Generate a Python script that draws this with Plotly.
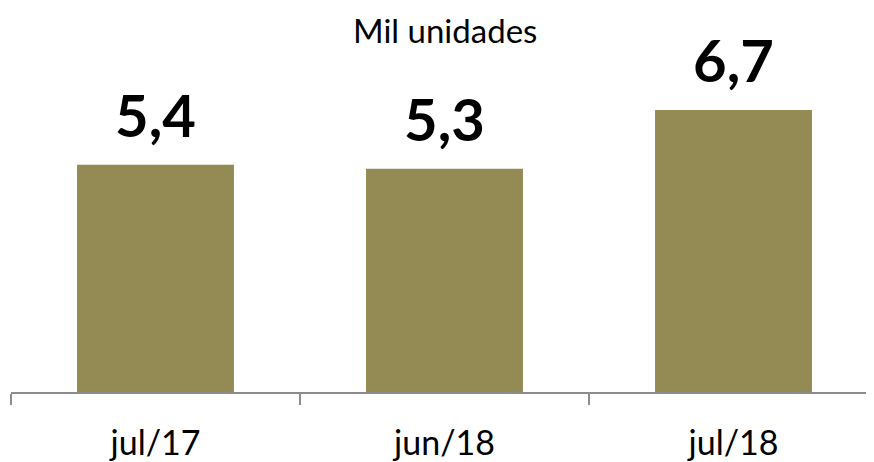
import plotly.graph_objects as go

categories = ["jul/17", "jun/18", "jul/18"]
values = [5.4, 5.3, 6.7]
labels = ["5,4", "5,3", "6,7"]
title_text = "Mil unidades"

bar_color = "#948A54"
font_family = "Lato, Open Sans, sans-serif"

# page has an 8px body margin; plot area targeted at page x 11..878, y 8..392
fig = go.Figure()
fig.add_trace(go.Bar(
    x=categories, y=values, marker=dict(color=bar_color, line=dict(width=0)),
    width=0.543, hoverinfo="skip",
))

for c, v, t in zip(categories, values, labels):
    fig.add_annotation(x=c, y=v, text="<b>%s</b>" % t, showarrow=False,
                       yanchor="bottom", yshift=14,
                       font=dict(family=font_family, size=58, color="#000000"))

fig.add_annotation(x=0.5, xref="paper", y=1, yref="paper", yanchor="top",
                   text=title_text, showarrow=False,
                   font=dict(family=font_family, size=33, color="#000000"))

fig.update_layout(
    width=874, height=462,
    margin=dict(l=3, r=4, t=0, b=78),
    plot_bgcolor="white", paper_bgcolor="white",
    showlegend=False,
    xaxis=dict(
        type="category", range=[-0.5, 2.5],
        showline=True, linecolor="#8c8c8c", linewidth=1.5,
        ticks="outside", tickson="boundaries", ticklen=11, tickcolor="#8c8c8c", tickwidth=1.5,
        tickfont=dict(family=font_family, size=34, color="#000000"),
        ticklabelstandoff=20, showgrid=False,
    ),
    yaxis=dict(range=[0, 384 / 42.1], visible=False, showgrid=False),
)

fig.write_html("out.html")
